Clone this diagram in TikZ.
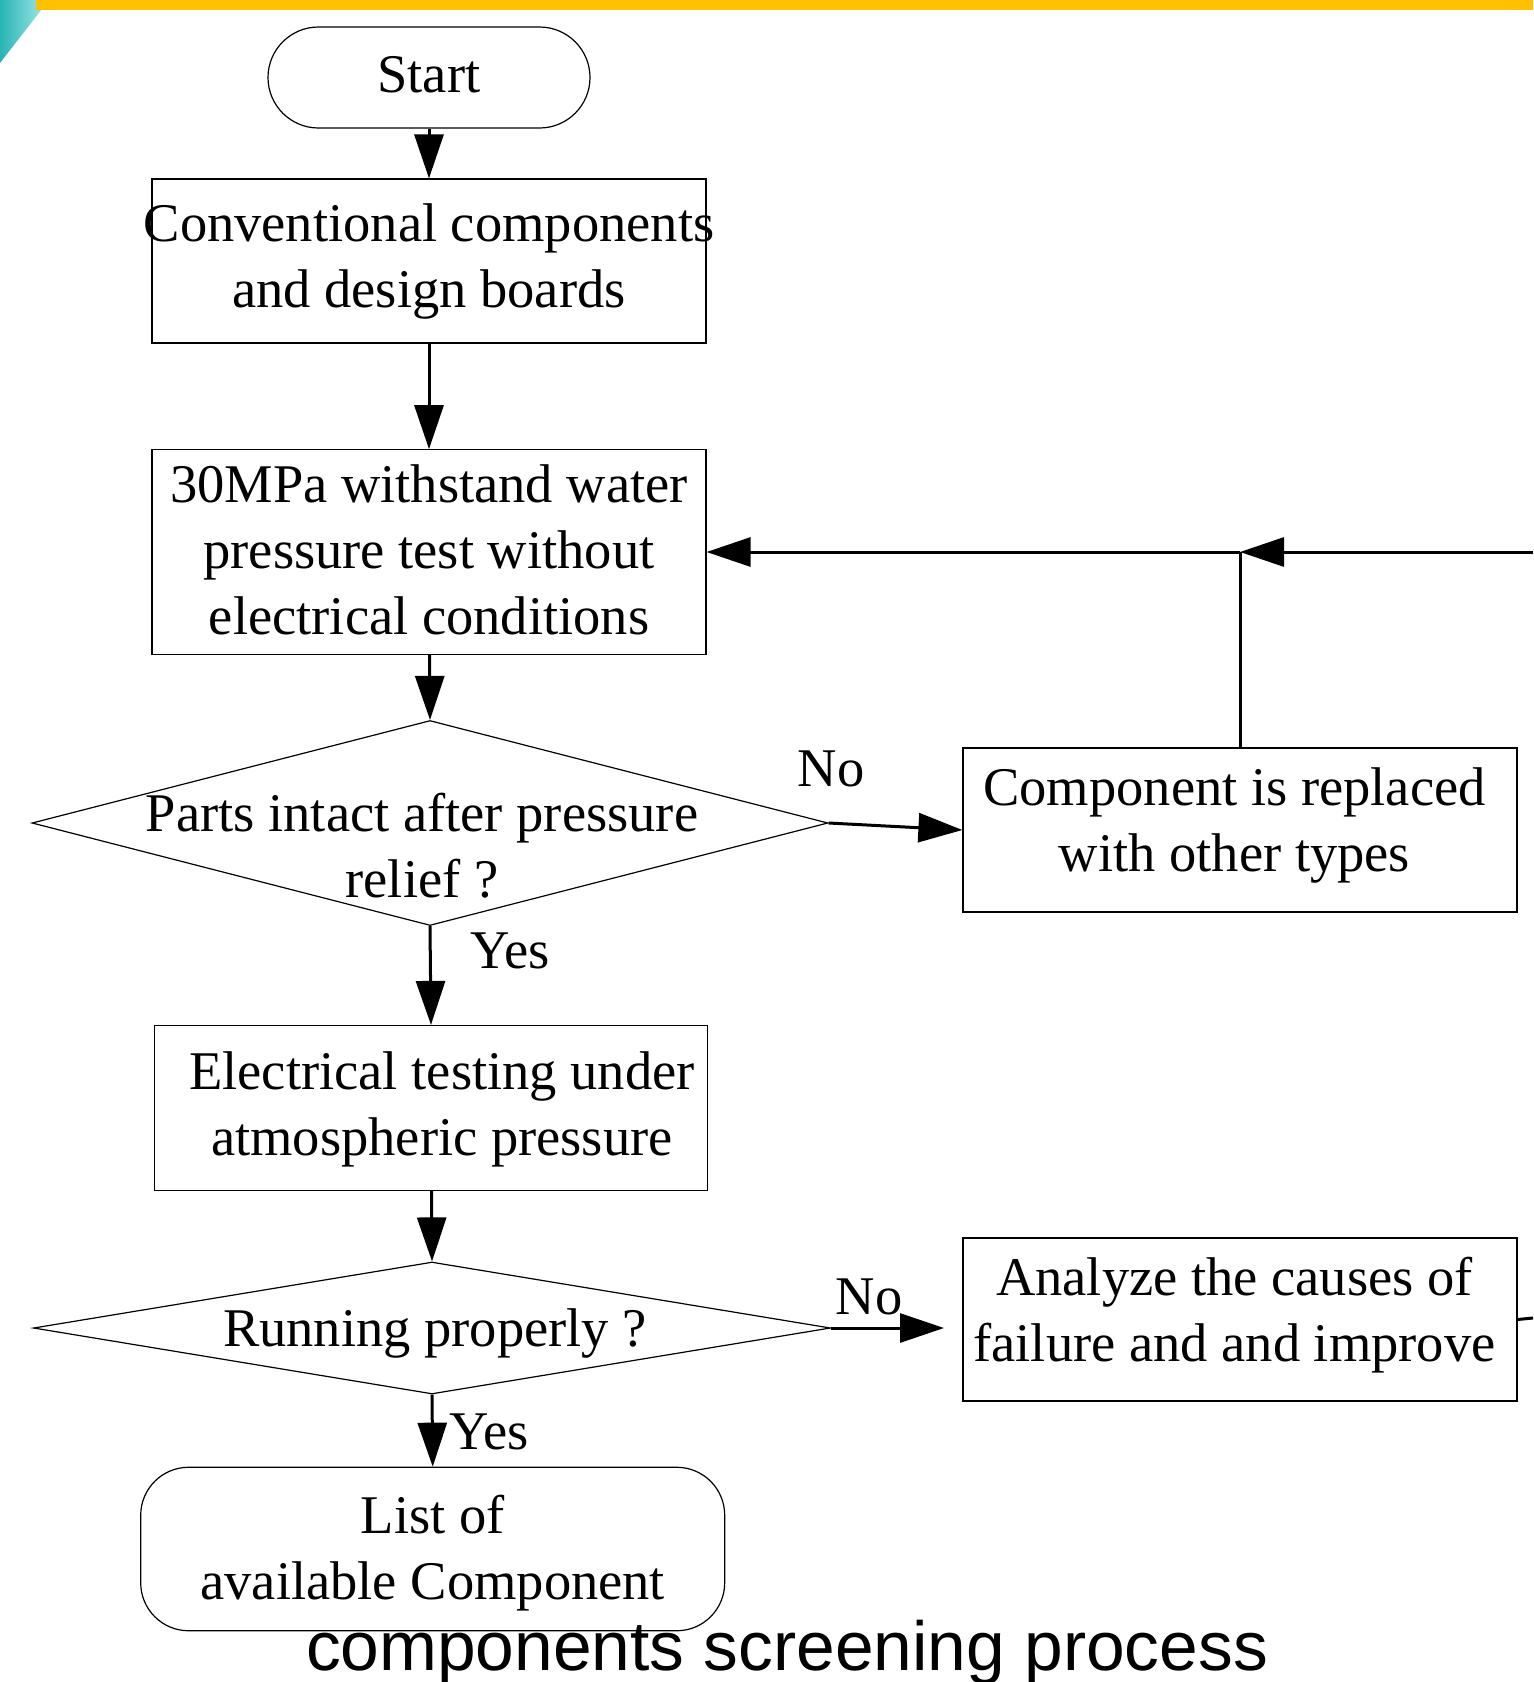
\documentclass[tikz,border=0pt]{standalone}
\usepackage{fontspec}
\setmainfont{Liberation Serif}
\newfontfamily\capfont{Liberation Sans}
\usetikzlibrary{shapes.geometric,shapes.misc,arrows.meta}
\definecolor{baryellow}{RGB}{255,192,0}
\definecolor{tealdark}{RGB}{40,180,180}
\definecolor{teallight}{RGB}{170,235,235}
\begin{document}
\begin{tikzpicture}[x=0.5pt,y=-0.5pt,
  box/.style={draw, line width=0.6pt, inner sep=0pt, minimum width=277pt, minimum height=82pt},
  dia/.style={draw, diamond, line width=0.6pt, inner sep=0pt},
  txt/.style={align=center, font=\fontsize{27.25pt}{33pt}\selectfont, inner sep=0pt},
  arr/.style={line width=1.5pt, -{Triangle[length=22pt,width=14.5pt]}},
  ln/.style={line width=1.5pt}]
\useasboundingbox (0,0) rectangle (1533,1682);
% decoration
\shade[left color=tealdark, right color=teallight] (0,0) -- (49,0) -- (0,63) -- cycle;
\fill[baryellow] (36,0) rectangle (1533,10);
% shapes
\node[draw, rounded rectangle, line width=0.6pt, inner sep=0pt, minimum width=161pt, minimum height=50.5pt] (start) at (429,77.5) {};
\node[box] (b1) at (429,261) {};
\node[box, minimum height=102.25pt] (b2) at (429,552) {};
\node[dia, minimum width=398pt, minimum height=102.5pt] (d1) at (430,823) {};
\node[box] (b3) at (1240,830) {};
\node[box, minimum width=276.75pt, minimum height=82.5pt] (b4) at (431,1108) {};
\node[dia, minimum width=398.5pt, minimum height=66pt] (d2) at (432,1328) {};
\node[box, minimum height=81.5pt] (b5) at (1240,1319.5) {};
\node[draw, rounded corners=24pt, line width=0.6pt, inner sep=0pt, minimum width=292pt, minimum height=81.75pt] (end) at (432.7,1549) {};
% texts
\node[txt] (startt) at (429,75) {Start};
\node[txt] (b1t) at (429,261) {Conventional components\\and design boards};
\node[txt] (b2t) at (429,550) {30MPa withstand water\\pressure test without\\electrical conditions};
\node[txt] (d1t) at (422,846) {Parts intact after pressure\\relief ?};
\node[txt] (b3t) at (1234.5,825.5) {Component is replaced\\with other types};
\node[txt] (b4t) at (442,1109) {Electrical testing under\\atmospheric pressure};
\node[txt] (d2t) at (435,1333) {Running properly ?};
\node[txt] (b5t) at (1234.5,1315) {Analyze the causes of\\failure and and improve};
\node[txt] (endt) at (432.7,1553) {List of\\available Component};
% labels
\node[txt] (no1) at (831,769) {No};
\node[txt] (yes1) at (510,951) {Yes};
\node[txt] (no2) at (869,1297) {No};
\node[txt] (yes2) at (489,1432) {Yes};
\node[font=\capfont\fontsize{34.75pt}{40pt}\selectfont, anchor=base, inner sep=0pt] (cap) at (787,1670) {components screening process};
% coordinates
\coordinate (j) at (1240,552);
\coordinate (redge) at (1533,552);
\coordinate (d2end) at (944,1328);
\coordinate (b5edge) at (1533,1318);
% connectors
\draw[arr] (start) -- (b1);
\draw[arr] (b1) -- (b2);
\draw[arr] (b2) -- (d1.north);
\draw[arr] (d1.east) -- (b3.west);
\draw[arr] (d1.south) -- (b4.north);
\draw[arr] (b4) -- (d2.north);
\draw[arr] (d2.east) -- (d2end);
\draw[arr] (d2.south) -- (end.north);
\draw[ln] (b3.north) -- (j);
\draw[arr] (redge) -- (j);
\draw[arr] (j) -- (b2.east);
\draw[ln] (b5.east) -- (b5edge);
\end{tikzpicture}
\end{document}
